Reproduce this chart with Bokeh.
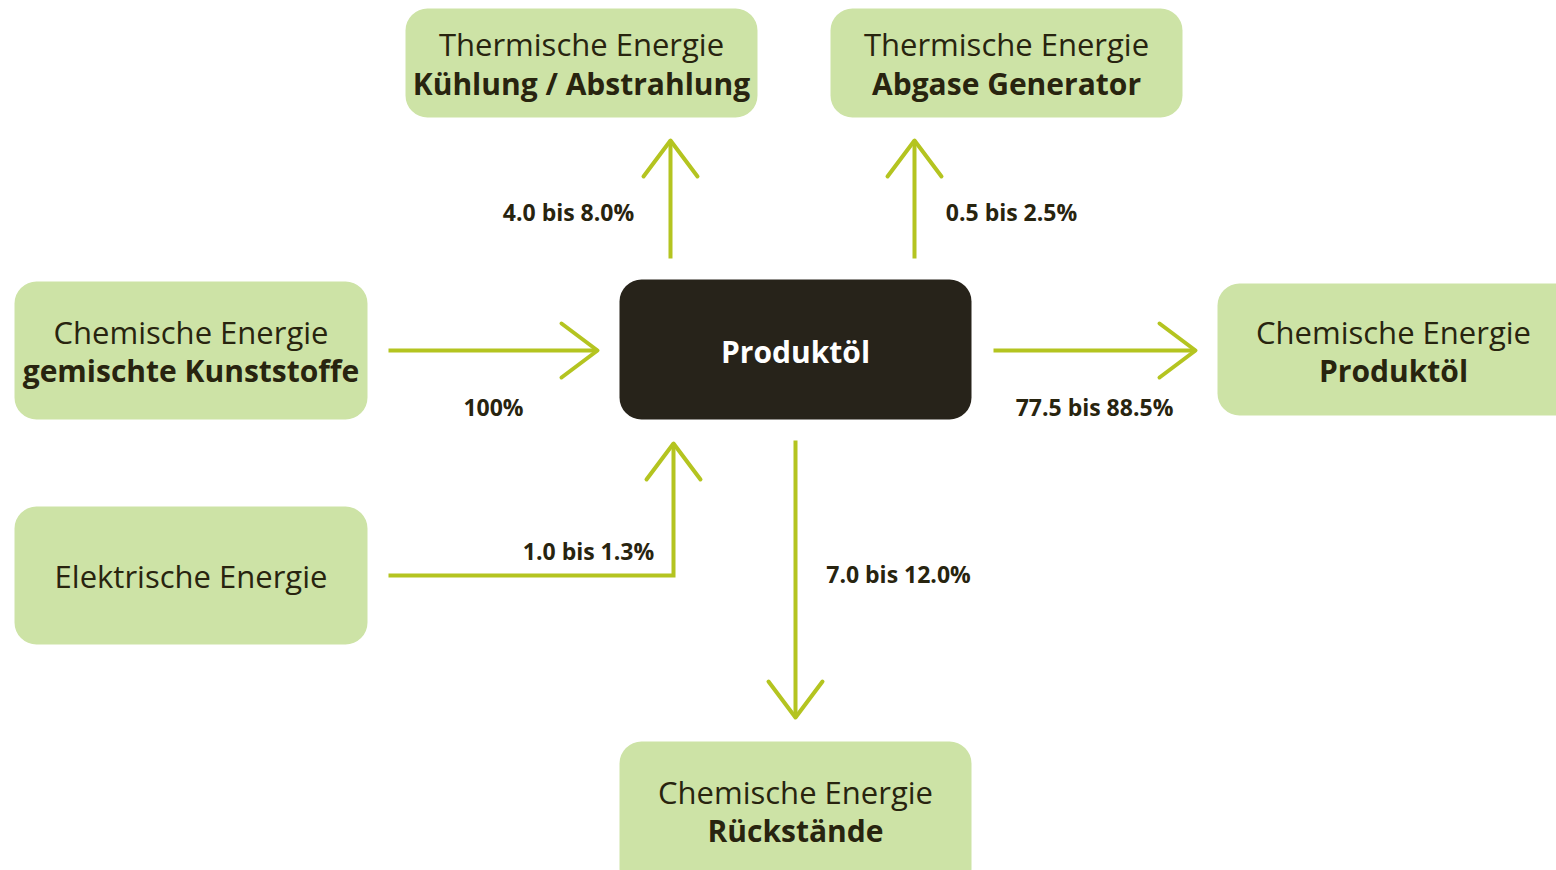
from bokeh.plotting import figure
from bokeh.models import Range1d
from bokeh.core.properties import value
from bokeh.embed import file_html
from bokeh.resources import INLINE

# ---- content ----
box_titles = ["Thermische Energie", "Thermische Energie", "Chemische Energie",
              "Elektrische Energie", "Chemische Energie", "Chemische Energie"]
box_subtitles = ["Kühlung / Abstrahlung", "Abgase Generator", "gemischte Kunststoffe",
                 "", "Produktöl", "Rückstände"]
center_label = "Produktöl"
flow_labels = ["4.0 bis 8.0%", "0.5 bis 2.5%", "100%", "77.5 bis 88.5%",
               "1.0 bis 1.3%", "7.0 bis 12.0%"]

# ---- layout (page pixel coordinates) ----
box_left = [405, 830, 14, 14, 1217, 619]
box_right = [757, 1182, 367, 367, 1580, 971]
box_top = [8, 8, 281, 506, 283, 741]
box_bottom = [117, 117, 419, 644, 415, 890]

FONT = value("Open Sans")
GREEN = "#cde3a6"
ARROW = "#b4c420"
DARK = "#27231a"
TXT = "#28240f"

W, H = 1556, 870
p = figure(width=W, height=H, output_backend="svg", toolbar_location=None,
           x_range=Range1d(0, W), y_range=Range1d(H, 0), min_border=0)
p.axis.visible = False
p.grid.visible = False
p.outline_line_color = None
p.background_fill_color = "white"

p.quad(left=box_left, right=box_right, top=box_top, bottom=box_bottom,
       fill_color=GREEN, line_color=None, border_radius=22)
p.quad(left=[619], right=[971], top=[279], bottom=[419],
       fill_color=DARK, line_color=None, border_radius=22)

# box texts
cx = [(l + r) / 2 for l, r in zip(box_left, box_right)]
cx[4] = 1393
cy = [(t + b) / 2 for t, b in zip(box_top, box_bottom)]
cy[4] = 350
cy[5] = 810
for i in range(len(box_titles)):
    if box_subtitles[i]:
        p.text(x=[cx[i]], y=[cy[i] - 19], text=[box_titles[i]], text_font=FONT,
               text_font_size="31px", text_color=TXT, text_align="center",
               text_baseline="middle")
        p.text(x=[cx[i]], y=[cy[i] + 20], text=[box_subtitles[i]], text_font=FONT,
               text_font_size="30px", text_font_style="bold", text_color=TXT,
               text_align="center", text_baseline="middle")
    else:
        p.text(x=[cx[i]], y=[cy[i]], text=[box_titles[i]], text_font=FONT,
               text_font_size="31px", text_color=TXT, text_align="center",
               text_baseline="middle")

p.text(x=[795], y=[351], text=[center_label], text_font=FONT, text_font_size="30px",
       text_font_style="bold", text_color="white", text_align="center",
       text_baseline="middle")

# arrows: shafts
shafts_x = [[670, 670], [914, 914], [388, 597], [993, 1195],
            [388, 673, 673], [795, 795]]
shafts_y = [[258, 140], [258, 140], [350, 350], [350, 350],
            [575, 575, 443], [440, 717]]
p.multi_line(xs=shafts_x, ys=shafts_y, line_color=ARROW, line_width=4,
             line_join="miter")

# arrow heads (open V)
hx, hy = [], []
for xs, ys in zip(shafts_x, shafts_y):
    tx, ty = xs[-1], ys[-1]
    px, py = xs[-2], ys[-2]
    dx, dy = tx - px, ty - py
    n = (dx * dx + dy * dy) ** 0.5
    ux, uy = dx / n, dy / n
    L, Wd = 36, 27
    bx, by = tx - ux * L, ty - uy * L
    hx.append([bx - uy * Wd, tx, bx + uy * Wd])
    hy.append([by + ux * Wd, ty, by - ux * Wd])
p.multi_line(xs=hx, ys=hy, line_color=ARROW, line_width=4, line_cap="round",
             line_join="round")

# flow labels
lx = [568, 1011, 493, 1094, 588, 898]
ly = [211, 211, 406, 406, 550, 573]
p.text(x=lx, y=ly, text=flow_labels, text_font=FONT, text_font_size="23px",
       text_font_style="bold", text_color=TXT, text_align="center",
       text_baseline="middle")

open("out.html", "w").write(file_html(p, INLINE))
